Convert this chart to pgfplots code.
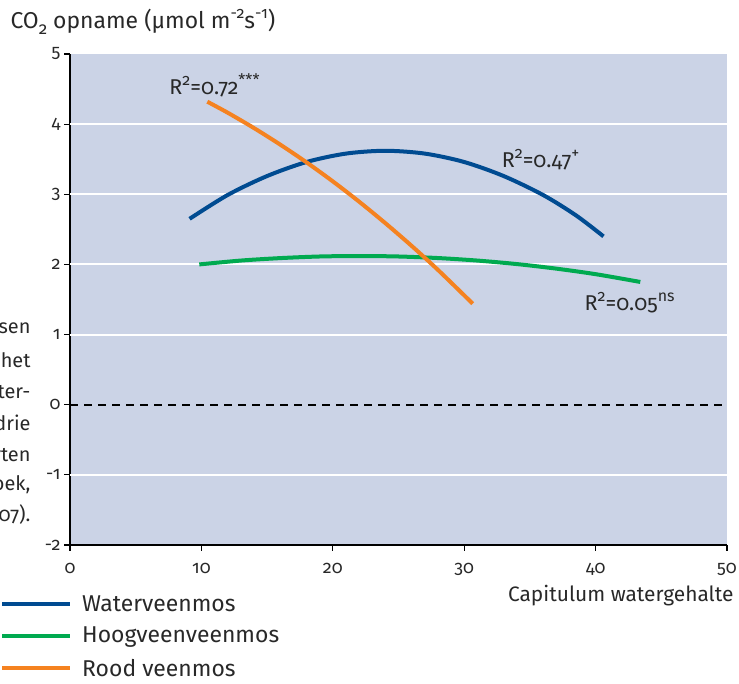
\documentclass[border=0pt]{standalone}
\usepackage{fontspec}
\setmainfont[Numbers=OldStyle]{Fira Sans}
\usepackage{pgfplots}
\pgfplotsset{compat=1.18}
\definecolor{bgc}{RGB}{203,211,230}
\definecolor{cblue}{RGB}{0,75,145}
\definecolor{cgreen}{RGB}{0,170,80}
\definecolor{corange}{RGB}{245,130,32}
\definecolor{txt}{RGB}{40,40,40}
\newcommand\sps[1]{\raisebox{0.42em}{\fontsize{16}{16}\selectfont #1}}
\newcommand\sbs[1]{\raisebox{-0.28em}{\fontsize{17}{17}\selectfont #1}}
\begin{document}
\begin{tikzpicture}[x=1bp,y=1bp]
\path[use as bounding box] (0,0) rectangle (739,684);
\clip (0,0) rectangle (739,684);
\begin{axis}[
  at={(70bp,139bp)}, anchor=south west, scale only axis,
  width=657bp, height=491bp,
  xmin=0, xmax=50, ymin=-2, ymax=5,
  axis lines=left, axis line style={-, line width=2bp, black},
  axis background/.style={fill=bgc},
  xtick={0,10,...,50}, ytick={-2,-1,...,5},
  tick align=outside, major tick length=6bp,
  tick style={black, line width=1.2bp},
  /pgf/number format/assume math mode=true,
  ticklabel style={font=\fontsize{18}{20}\selectfont, text=txt},
  xticklabel style={yshift=-9bp},
  extra y ticks={-1,1,2,3,4}, extra y tick labels={},
  extra y tick style={grid=major, major tick length=0pt},
  major grid style={white, line width=2bp},
  legend style={at={(axis description cs:-0.1065,-0.098)}, anchor=north west,
    draw=none, fill=none, font=\fontsize{23}{25}\selectfont, text=txt,
    row sep=10.5bp, inner sep=0pt},
  legend cell align=left,
  legend image code/.code={\draw[#1, line width=4bp] (0bp,0bp) -- (68bp,0bp); \path (76bp,0bp);},
]
\addplot[black, line width=2bp, dash pattern=on 8bp off 6bp, forget plot] coordinates {(0,0) (50,0)};
\addplot[cblue, line width=4bp, smooth] coordinates {
(9.1,2.65) (12,2.99) (15,3.26) (18,3.46) (21,3.58) (24,3.62) (27,3.58) (30,3.46) (33,3.26) (36,2.99) (38.5,2.70) (40.6,2.40)};
\addlegendentry{Waterveenmos}
\addplot[cgreen, line width=4bp, smooth] coordinates {
(9.84,2.0) (13,2.055) (16,2.09) (19,2.113) (22,2.12) (25,2.113) (28,2.091) (31,2.055) (34,2.005) (37,1.94) (40,1.861) (43.4,1.75)};
\addlegendentry{Hoogveenveenmos}
\addplot[corange, line width=4bp, smooth] coordinates {
(10.45,4.32) (12,4.163) (14,3.944) (16,3.708) (18,3.455) (20,3.184) (22,2.895) (24,2.588) (26,2.264) (28,1.922) (30.65,1.44)};
\addlegendentry{Rood veenmos}
\node[anchor=west, font=\fontsize{21.5}{23}\selectfont, text=txt] at (axis cs:7.3,4.55) {R\sps{2}=0.72\sps{***}};
\node[anchor=west, font=\fontsize{21.5}{23}\selectfont, text=txt] at (axis cs:32.6,3.5) {R\sps{2}=0.47\sps{+}};
\node[anchor=west, font=\fontsize{21.5}{23}\selectfont, text=txt] at (axis cs:38.9,1.45) {R\sps{2}=0.05\sps{ns}};
\end{axis}
\node[anchor=west, font=\fontsize{23}{25}\selectfont, text=txt] at (7,662) {CO\sbs{2} opname (µmol m\sps{-2}s\sps{-1})};
\node[anchor=east, font=\fontsize{21}{23}\selectfont, text=txt] at (737,88) {Capitulum watergehalte};
\begin{scope}[every node/.style={anchor=east, font=\fontsize{20}{22}\selectfont, text=txt}]
\node at (34,356) {ssen};
\node at (34,324) {het};
\node at (34,292) {ater-};
\node at (34,261) {drie};
\node at (34,229) {rten};
\node at (34,199) {oek,};
\node at (34,169) {07).};
\end{scope}
\end{tikzpicture}
\end{document}
